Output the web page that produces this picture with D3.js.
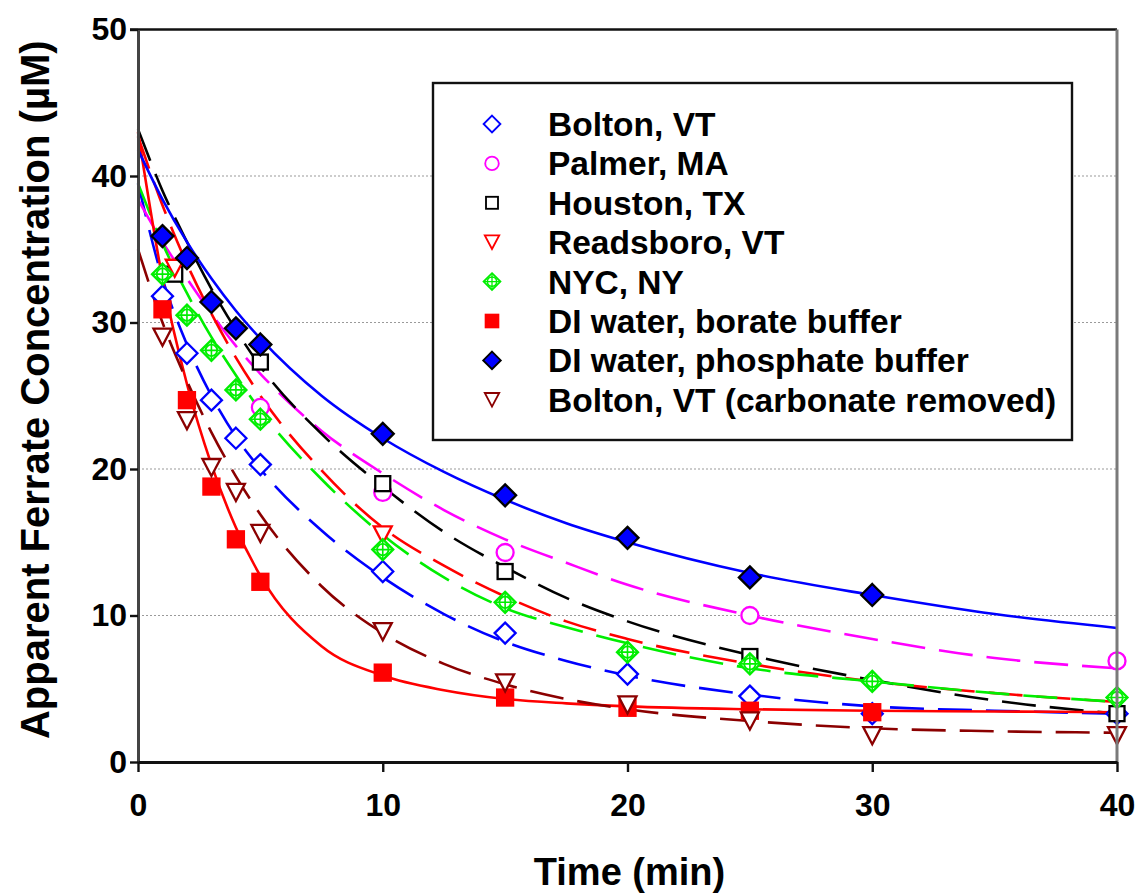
<!DOCTYPE html>
<html>
<head>
<meta charset="utf-8">
<script src="https://cdn.jsdelivr.net/npm/d3@7"></script>
<style>
  body { margin: 0; background: #fff; }
  svg { display: block; }
  text { font-family: "Liberation Sans", Arial, Helvetica, sans-serif; font-weight: bold; fill: #000; }
</style>
</head>
<body>
<svg id="chart" width="1138" height="893"></svg>
<script>
// ---- axis ticks ----
const xTicks = [0, 10, 20, 30, 40];
const yTicks = [0, 10, 20, 30, 40, 50];
const gridValues = [10, 20, 30, 40];

// ---- series labels (legend order) ----
const seriesNames = [
  "Bolton, VT",
  "Palmer, MA",
  "Houston, TX",
  "Readsboro, VT",
  "NYC, NY",
  "DI water, borate buffer",
  "DI water, phosphate buffer",
  "Bolton, VT (carbonate removed)"
];

// ---- measured concentrations (µM) vs time (min) ----
const boltonT = [1, 2, 3, 4, 5, 10, 15, 20, 25, 30, 40];
const boltonC = [31.8, 27.9, 24.7, 22.1, 20.3, 13.0, 8.8, 6.0, 4.5, 3.3, 3.3];
const palmerT = [5, 10, 15, 25, 40];
const palmerC = [24.2, 18.4, 14.3, 10.0, 6.9];
const houstonT = [1.5, 5, 10, 15, 25, 40];
const houstonC = [33.3, 27.3, 19.0, 13.0, 7.2, 3.3];
const readsboroT = [1.5, 10];
const readsboroC = [33.7, 15.5];
const nycT = [1, 2, 3, 4, 5, 10, 15, 20, 25, 30, 40];
const nycC = [33.3, 30.5, 28.1, 25.4, 23.4, 14.5, 10.9, 7.5, 6.7, 5.5, 4.4];
const borateT = [1, 2, 3, 4, 5, 10, 15, 20, 25, 30];
const borateC = [30.9, 24.7, 18.8, 15.2, 12.3, 6.1, 4.4, 3.7, 3.5, 3.4];
const phosphateT = [1, 2, 3, 4, 5, 10, 15, 20, 25, 30];
const phosphateC = [35.9, 34.4, 31.4, 29.6, 28.5, 22.4, 18.2, 15.3, 12.6, 11.4];
const carbRemovedT = [1, 2, 3, 4, 5, 10, 15, 20, 25, 30, 40];
const carbRemovedC = [29.0, 23.3, 20.1, 18.4, 15.6, 8.9, 5.4, 3.9, 2.8, 1.8, 1.8];

// ---- fitted decay curves, sampled at common times ----
const fitT = [0, 1, 2, 3, 4, 5, 7.5, 10, 12.5, 15, 17.5, 20, 25, 30, 35, 40];
const boltonFit    = [39.5, 33.0, 28.5, 25.0, 22.2, 20.0, 15.8, 12.6, 10.1, 8.2, 6.9, 5.9, 4.6, 3.8, 3.5, 3.3];
const palmerFit    = [38.4, 35.5, 33.0, 30.6, 28.4, 26.5, 22.6, 19.7, 17.2, 15.2, 13.6, 12.1, 10.0, 8.4, 7.1, 6.4];
const houstonFit   = [43.2, 39.0, 35.5, 32.3, 29.5, 27.0, 22.4, 18.8, 15.7, 13.3, 11.2, 9.6, 7.3, 5.6, 4.2, 3.3];
const readsboroFit = [42.7, 38.0, 34.0, 30.6, 27.6, 25.0, 19.9, 16.0, 13.4, 11.3, 9.6, 8.4, 6.7, 5.5, 4.7, 4.1];
const nycFit       = [39.5, 35.4, 32.0, 29.0, 26.4, 24.0, 19.3, 15.5, 12.6, 10.5, 9.2, 8.1, 6.4, 5.5, 4.7, 4.1];
const borateFit    = [43.0, 33.0, 25.8, 20.3, 16.0, 12.7, 7.9, 5.9, 4.9, 4.3, 4.0, 3.8, 3.6, 3.5, 3.45, 3.4];
const phosphateFit = [41.8, 38.4, 35.5, 33.0, 30.8, 28.9, 25.0, 22.1, 19.8, 17.9, 16.3, 15.0, 12.9, 11.4, 10.1, 9.15];
const carbRemovedFit = [35.0, 30.0, 26.0, 22.5, 19.5, 16.9, 12.0, 8.8, 6.7, 5.3, 4.3, 3.6, 2.8, 2.3, 2.1, 2.0];

// ---- styling per series ----
const BLUE = "#0000ff", MAGENTA = "#ff00ff", BLACK = "#000000", RED = "#ff0000",
      GREEN = "#00ee00", MAROON = "#8b0000";
const DASH = "34,14";

const series = [
  { name: seriesNames[0], t: boltonT, c: boltonC, fit: boltonFit, color: BLUE, dash: DASH, shape: "diamond", fill: "#fff", stroke: BLUE, size: 10.5 },
  { name: seriesNames[1], t: palmerT, c: palmerC, fit: palmerFit, color: MAGENTA, dash: DASH, shape: "circle", fill: "#fff", stroke: MAGENTA, size: 8.5 },
  { name: seriesNames[2], t: houstonT, c: houstonC, fit: houstonFit, color: BLACK, dash: DASH, shape: "square", fill: "#fff", stroke: BLACK, size: 7.5 },
  { name: seriesNames[3], t: readsboroT, c: readsboroC, fit: readsboroFit, color: RED, dash: DASH, shape: "triangle", fill: "#fff", stroke: RED, size: 9 },
  { name: seriesNames[4], t: nycT, c: nycC, fit: nycFit, color: GREEN, dash: DASH, shape: "crossDiamond", fill: "#fff", stroke: GREEN, size: 10.5 },
  { name: seriesNames[5], t: borateT, c: borateC, fit: borateFit, color: RED, dash: null, shape: "square", fill: RED, stroke: RED, size: 8 },
  { name: seriesNames[6], t: phosphateT, c: phosphateC, fit: phosphateFit, color: BLUE, dash: null, shape: "diamond", fill: BLUE, stroke: BLACK, size: 11 },
  { name: seriesNames[7], t: carbRemovedT, c: carbRemovedC, fit: carbRemovedFit, color: MAROON, dash: DASH, shape: "triangle", fill: "#fff", stroke: MAROON, size: 9 }
];

// ---- layout ----
const svg = d3.select("#chart");
const x = d3.scaleLinear().domain([0, 40]).range([138, 1117]);
const y = d3.scaleLinear().domain([0, 50]).range([762, 29.5]);

// horizontal dotted grid
svg.append("g").selectAll("line").data(gridValues).join("line")
  .attr("x1", x(0)).attr("x2", x(40))
  .attr("y1", d => y(d)).attr("y2", d => y(d))
  .attr("stroke", "#9a9a9a").attr("stroke-width", 1.2)
  .attr("stroke-dasharray", "2,2");

// fitted curves
const line = d3.line().curve(d3.curveMonotoneX)
  .x(d => x(d[0])).y(d => y(d[1]));
const curves = svg.append("g");
series.forEach(s => {
  curves.append("path")
    .datum(fitT.map((t, i) => [t, s.fit[i]]))
    .attr("d", line)
    .attr("fill", "none")
    .attr("stroke", s.color)
    .attr("stroke-width", 2.6)
    .attr("stroke-dasharray", s.dash);
});

// marker drawing
function drawMarker(g, s, cx, cy, k) {
  const r = s.size * k;
  const sw = 2.3 * k;
  if (s.shape === "diamond" || s.shape === "crossDiamond") {
    g.append("path")
      .attr("d", `M${cx},${cy - r}L${cx + r},${cy}L${cx},${cy + r}L${cx - r},${cy}Z`)
      .attr("fill", s.fill).attr("stroke", s.stroke).attr("stroke-width", sw);
    if (s.shape === "crossDiamond") {
      g.append("circle").attr("cx", cx).attr("cy", cy).attr("r", r * 0.55)
        .attr("fill", "none").attr("stroke", s.stroke).attr("stroke-width", sw * 0.8);
      g.append("path")
        .attr("d", `M${cx - r},${cy}H${cx + r}M${cx},${cy - r}V${cy + r}`)
        .attr("stroke", s.stroke).attr("stroke-width", sw * 0.7);
    }
  } else if (s.shape === "circle") {
    g.append("circle").attr("cx", cx).attr("cy", cy).attr("r", r)
      .attr("fill", s.fill).attr("stroke", s.stroke).attr("stroke-width", sw);
  } else if (s.shape === "square") {
    g.append("rect").attr("x", cx - r).attr("y", cy - r)
      .attr("width", 2 * r).attr("height", 2 * r)
      .attr("fill", s.fill).attr("stroke", s.stroke).attr("stroke-width", sw);
  } else if (s.shape === "triangle") {
    const h = r * 0.95;
    g.append("path")
      .attr("d", `M${cx - r},${cy - h}L${cx + r},${cy - h}L${cx},${cy + h}Z`)
      .attr("fill", s.fill).attr("stroke", s.stroke).attr("stroke-width", sw);
  }
}

// data markers
const marks = svg.append("g");
series.forEach(s => {
  s.t.forEach((t, i) => drawMarker(marks, s, x(t), y(s.c[i]), 1));
});

// frame: top and right borders
svg.append("line").attr("x1", 130).attr("x2", x(40)).attr("y1", y(50)).attr("y2", y(50))
  .attr("stroke", "#111").attr("stroke-width", 2.6);
svg.append("line").attr("x1", x(40)).attr("x2", x(40)).attr("y1", y(50)).attr("y2", y(0))
  .attr("stroke", "#7a7a7a").attr("stroke-width", 3);

// axes
const yAxis = svg.append("g").attr("transform", `translate(${x(0)},0)`)
  .call(d3.axisLeft(y).tickValues(yTicks).tickSize(8).tickPadding(3).tickSizeOuter(0));
const xAxis = svg.append("g").attr("transform", `translate(0,${y(0)})`)
  .call(d3.axisBottom(x).tickValues(xTicks).tickSize(10).tickPadding(21).tickSizeOuter(0));
yAxis.select(".domain").attr("stroke", "#444").attr("stroke-width", 3);
xAxis.select(".domain").attr("stroke", "#111").attr("stroke-width", 3);
[yAxis, xAxis].forEach(a => {
  a.selectAll(".tick line").attr("stroke", "#111").attr("stroke-width", 2.4);
  a.selectAll(".tick text")
    .style("font-family", "'Liberation Sans', Arial, sans-serif")
    .style("font-weight", "bold").style("font-size", "32px").attr("fill", "#000");
});

// axis titles
svg.append("text")
  .attr("transform", `translate(49,${(y(0) + y(50)) / 2 - 6}) rotate(-90)`)
  .attr("text-anchor", "middle").style("font-size", "40px")
  .text("Apparent Ferrate Concentration (µM)");
svg.append("text")
  .attr("x", (x(0) + x(40)) / 2 + 2).attr("y", 885)
  .attr("text-anchor", "middle").style("font-size", "38px")
  .text("Time (min)");

// legend
const legend = svg.append("g");
legend.append("rect").attr("x", 433).attr("y", 83).attr("width", 639).attr("height", 357)
  .attr("fill", "#fff").attr("stroke", "#111").attr("stroke-width", 2.4);
series.forEach((s, i) => {
  const cy = 124 + i * 39.4;
  drawMarker(legend, s, 492, cy, 0.8);
  legend.append("text").attr("x", 548).attr("y", cy + 12)
    .style("font-size", "33.5px").text(s.name);
});
</script>
</body>
</html>
